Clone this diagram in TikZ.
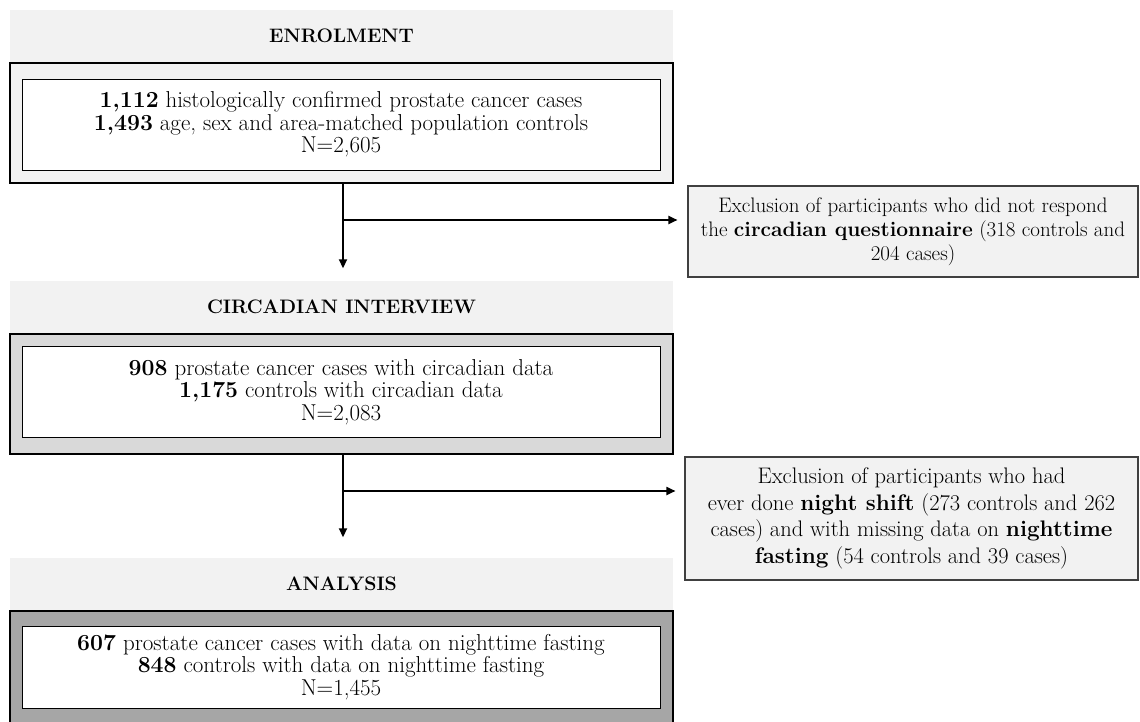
\documentclass[tikz,border=0pt]{standalone}
\usetikzlibrary{arrows.meta}
\definecolor{hdr}{HTML}{F2F2F2}
\definecolor{midg}{HTML}{D9D9D9}
\definecolor{darkg}{HTML}{A6A6A6}
\definecolor{exb}{HTML}{404040}
\tikzset{
  txt/.style={font=\fontsize{23}{22.5}\selectfont, align=center, inner sep=0pt},
  header/.style={txt, fill=hdr, minimum width=663pt, minimum height=52pt, font=\fontsize{19.5}{22.5}\selectfont\bfseries},
  outerbox/.style={draw=black, line width=2.5pt, minimum width=663pt, minimum height=120pt, inner sep=0pt},
  innerbox/.style={txt, draw=black, line width=0.9pt, fill=white, minimum width=638pt, minimum height=91pt},
  exclbox/.style={txt, draw=exb, line width=1.1pt, fill=hdr},
  conn/.style={draw=black, line width=1.8pt},
  arr/.style={conn, -{Triangle[length=9pt,width=8pt]}}
}
\begin{document}
\begin{tikzpicture}[x=1pt,y=-1pt]
\clip (0,0) rectangle (1140,722);
\fill[white] (0,0) rectangle (1140,722);
% stage 1
\node[header] (h1) at (341.5,36) {ENROLMENT};
\node[outerbox, fill=hdr] (o1) at (341.5,123) {};
\node[innerbox] (i1) at (341,124.5) {\textbf{1,112} histologically confirmed prostate cancer cases\\\textbf{1,493} age, sex and area-matched population controls\\N=2,605};
% exclusion 1
\node[exclbox, font=\fontsize{21}{24}\selectfont, minimum width=450pt, minimum height=91pt] (e1) at (913,231.5) {Exclusion of participants who did not respond\\the \textbf{circadian questionnaire} (318 controls and\\204 cases)};
% stage 2
\node[header] (h2) at (341.5,306.5) {CIRCADIAN INTERVIEW};
\node[outerbox, fill=midg, line width=2pt] (o2) at (341.5,394) {};
\node[innerbox] (i2) at (341,392) {\textbf{908} prostate cancer cases with circadian data\\\textbf{1,175} controls with circadian data\\N=2,083};
% exclusion 2
\node[exclbox, font=\fontsize{22.5}{26.7}\selectfont, minimum width=453pt, minimum height=123pt] (e2) at (911.5,518.5) {Exclusion of participants who had\\ever done \textbf{night shift} (273 controls and 262\\cases) and with missing data on \textbf{nighttime}\\\textbf{fasting} (54 controls and 39 cases)};
% stage 3
\node[header] (h3) at (341.5,583.5) {ANALYSIS};
\node[outerbox, fill=darkg, minimum height=130pt] (o3) at (341.5,676) {};
\node[innerbox, minimum height=82pt] (i3) at (341,667) {\textbf{607} prostate cancer cases with data on nighttime fasting\\\textbf{848} controls with data on nighttime fasting\\N=1,455};
% connectors
\coordinate (b1) at (343,220);
\coordinate (b2) at (343,491);
\draw[arr, shorten >=12pt] (o1.south -| b1) -- (h2.north -| b1);
\draw[arr, shorten >=10pt] (b1) -- (b1 -| e1.west);
\draw[arr, shorten >=20pt] (o2.south -| b2) -- (h3.north -| b2);
\draw[arr, shorten >=9pt] (b2) -- (b2 -| e2.west);
\end{tikzpicture}
\end{document}
